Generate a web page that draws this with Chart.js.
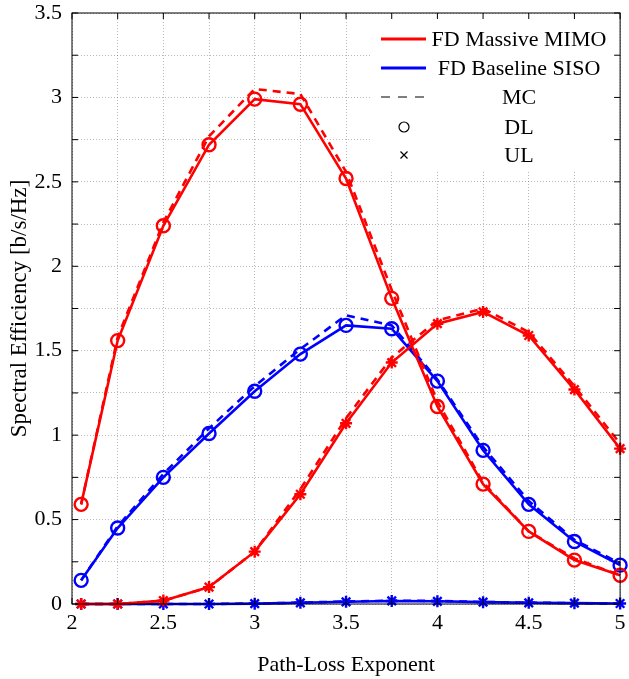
<!DOCTYPE html>
<html>
<head>
<meta charset="utf-8">
<script src="https://cdn.jsdelivr.net/npm/chart.js@4/dist/chart.umd.min.js"></script>
<style>
  html, body { margin: 0; padding: 0; background: #fff; }
</style>
</head>
<body>
<canvas id="grafik" width="629" height="679"></canvas>
<script>
// 1. DATA
const pathLoss = [2.05, 2.25, 2.5, 2.75, 3, 3.25, 3.5, 3.75, 4, 4.25, 4.5, 4.75, 5];

const mimoDL   = [0.59, 1.56, 2.24, 2.72, 2.99, 2.96, 2.52, 1.81, 1.17, 0.71, 0.43, 0.26, 0.17];
const mimoDLmc = [0.59, 1.58, 2.26, 2.77, 3.05, 3.02, 2.56, 1.86, 1.20, 0.72, 0.43, 0.27, 0.17];
const mimoUL   = [0.0, 0.0, 0.02, 0.10, 0.31, 0.65, 1.07, 1.43, 1.66, 1.73, 1.59, 1.27, 0.92];
const mimoULmc = [0.0, 0.0, 0.02, 0.10, 0.31, 0.68, 1.10, 1.46, 1.68, 1.75, 1.61, 1.29, 0.95];

const sisoDL   = [0.14, 0.45, 0.75, 1.01, 1.26, 1.48, 1.65, 1.63, 1.32, 0.91, 0.59, 0.37, 0.23];
const sisoDLmc = [0.14, 0.46, 0.77, 1.04, 1.29, 1.51, 1.71, 1.65, 1.33, 0.93, 0.61, 0.38, 0.24];
const sisoUL   = [0, 0, 0, 0, 0.002, 0.007, 0.013, 0.018, 0.016, 0.011, 0.007, 0.005, 0.003];
const sisoULmc = [0, 0, 0, 0, 0.003, 0.008, 0.015, 0.020, 0.018, 0.012, 0.008, 0.005, 0.003];

const xTickLabels = [2, 2.5, 3, 3.5, 4, 4.5, 5];
const yTickLabels = [0, 0.5, 1, 1.5, 2, 2.5, 3, 3.5];

const legendLabels = ['FD Massive MIMO', 'FD Baseline SISO', 'MC', 'DL', 'UL'];

// 2. GAYA
const FONT = 'Liberation Serif';
const MERAH = '#ff0000';
const BIRU = '#0000ff';

const titik = (ys) => pathLoss.map((x, i) => ({ x: x, y: ys[i] }));

function garisSolid(ys, warna, marker) {
    return {
        data: titik(ys),
        borderColor: warna,
        backgroundColor: 'rgba(0,0,0,0)',
        borderWidth: 2.6,
        pointStyle: marker,
        pointRadius: marker === 'circle' ? 6.5 : 6,
        pointBorderWidth: 2.4,
        pointBorderColor: warna,
        pointBackgroundColor: 'rgba(0,0,0,0)',
        tension: 0,
        clip: false
    };
}

function garisMC(ys, warna) {
    return {
        data: titik(ys),
        borderColor: warna,
        borderWidth: 2.6,
        borderDash: [8, 6],
        pointRadius: 0,
        tension: 0,
        clip: false
    };
}

// 3. PLUGIN: legenda kustom
const legenda = {
    id: 'legenda',
    afterDatasetsDraw(chart) {
        const ctx = chart.ctx;
        const a = chart.chartArea;
        ctx.save();
        ctx.fillStyle = '#fff';
        ctx.fillRect(370, a.top + 1, a.right - 371, 158);

        const x0 = 381, x1 = 426, tengah = 519;
        const baris = [39, 68, 97, 127, 155];
        ctx.lineWidth = 2.8;

        // garis merah & biru
        ctx.strokeStyle = MERAH;
        ctx.beginPath(); ctx.moveTo(x0, baris[0]); ctx.lineTo(x1, baris[0]); ctx.stroke();
        ctx.strokeStyle = BIRU;
        ctx.beginPath(); ctx.moveTo(x0, baris[1]); ctx.lineTo(x1, baris[1]); ctx.stroke();
        // garis putus-putus MC
        ctx.strokeStyle = '#000';
        ctx.lineWidth = 1.2;
        ctx.setLineDash([9, 8]);
        ctx.beginPath(); ctx.moveTo(x0, baris[2]); ctx.lineTo(x1 + 2, baris[2]); ctx.stroke();
        ctx.setLineDash([]);
        // lingkaran DL
        ctx.lineWidth = 1.2;
        ctx.beginPath(); ctx.arc(404, baris[3], 5, 0, Math.PI * 2); ctx.stroke();
        // silang UL
        ctx.beginPath();
        ctx.moveTo(400.5, baris[4] - 3.5); ctx.lineTo(407.5, baris[4] + 3.5);
        ctx.moveTo(400.5, baris[4] + 3.5); ctx.lineTo(407.5, baris[4] - 3.5);
        ctx.stroke();

        ctx.fillStyle = '#000';
        ctx.font = '22px "' + FONT + '"';
        ctx.textAlign = 'center';
        ctx.textBaseline = 'middle';
        legendLabels.forEach((teks, i) => ctx.fillText(teks, tengah, baris[i] + 1));
        ctx.restore();
    }
};

// 4. PLUGIN: bingkai + tick ke dalam
const bingkai = {
    id: 'bingkai',
    afterDraw(chart) {
        const { ctx, chartArea: a, scales: { x, y } } = chart;
        const p = 6;
        ctx.save();
        ctx.strokeStyle = '#000';
        ctx.lineWidth = 1;
        ctx.beginPath();
        x.ticks.forEach(t => {
            const px = x.getPixelForValue(t.value);
            ctx.moveTo(px, a.bottom); ctx.lineTo(px, a.bottom - p);
            ctx.moveTo(px, a.top); ctx.lineTo(px, a.top + p);
        });
        y.ticks.forEach(t => {
            const py = y.getPixelForValue(t.value);
            ctx.moveTo(a.left, py); ctx.lineTo(a.left + p, py);
            ctx.moveTo(a.right, py); ctx.lineTo(a.right - p, py);
        });
        ctx.stroke();
        ctx.strokeRect(a.left, a.top, a.right - a.left, a.bottom - a.top);
        ctx.restore();
    }
};

// 5. GRAFIK
const ctx = document.getElementById('grafik').getContext('2d');
new Chart(ctx, {
    type: 'line',
    data: {
        datasets: [
            garisSolid(mimoDL, MERAH, 'circle'),
            garisMC(mimoDLmc, MERAH),
            garisSolid(mimoUL, MERAH, 'star'),
            garisMC(mimoULmc, MERAH),
            garisSolid(sisoDL, BIRU, 'circle'),
            garisMC(sisoDLmc, BIRU),
            garisSolid(sisoUL, BIRU, 'star'),
            garisMC(sisoULmc, BIRU)
        ]
    },
    options: {
        responsive: false,
        animation: false,
        devicePixelRatio: 1,
        layout: { padding: { top: 13, right: 4, left: 0, bottom: 0 } },
        plugins: {
            legend: { display: false },
            tooltip: { enabled: false }
        },
        scales: {
            x: {
                type: 'linear',
                min: 2, max: 5,
                afterFit: s => { s.height = 75; s.paddingLeft = 0; s.paddingRight = 0; },
                ticks: {
                    stepSize: 0.25,
                    padding: 6,
                    color: '#000',
                    maxRotation: 0,
                    autoSkip: false,
                    font: { family: FONT, size: 22 },
                    callback: v => xTickLabels.includes(v) ? String(v) : ''
                },
                grid: { color: 'rgba(0,0,0,0.28)', drawTicks: false, lineWidth: 1 },
                border: { display: false, dash: [1, 2] },
                title: {
                    display: true,
                    text: 'Path-Loss Exponent',
                    color: '#000',
                    font: { family: FONT, size: 22 },
                    padding: { top: 0, bottom: 1 }
                }
            },
            y: {
                type: 'linear',
                min: 0, max: 3.5,
                afterFit: s => { s.width = 72; s.paddingTop = 0; s.paddingBottom = 0; },
                ticks: {
                    stepSize: 0.25,
                    padding: 10,
                    color: '#000',
                    autoSkip: false,
                    font: { family: FONT, size: 22 },
                    callback: v => yTickLabels.includes(v) ? String(v) : ''
                },
                grid: { color: 'rgba(0,0,0,0.28)', drawTicks: false, lineWidth: 1 },
                border: { display: false, dash: [1, 2] },
                title: {
                    display: true,
                    text: 'Spectral Efficiency [b/s/Hz]',
                    color: '#000',
                    font: { family: FONT, size: 23 },
                    padding: { top: 6, bottom: 0 }
                }
            }
        }
    },
    plugins: [legenda, bingkai]
});
</script>
</body>
</html>
